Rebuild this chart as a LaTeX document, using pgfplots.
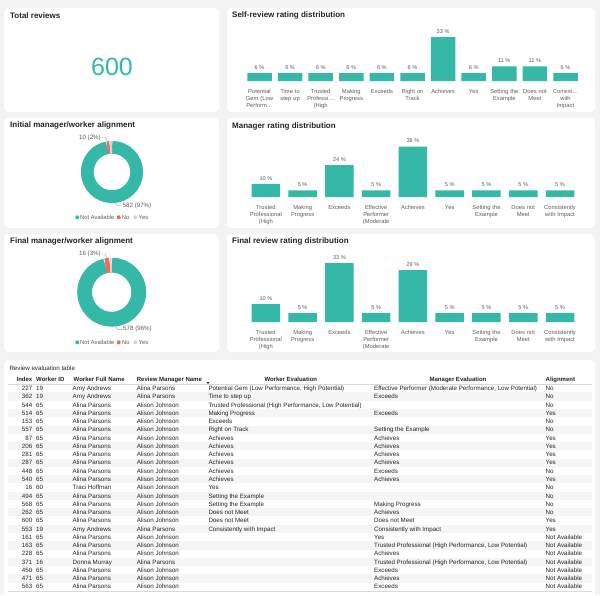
\documentclass[border=0pt]{standalone}
\usepackage{pgfplots}
\pgfplotsset{compat=1.18}
\usepackage{fontspec}
\setmainfont{Liberation Sans}

\definecolor{barteal}{RGB}{53,184,168}
\definecolor{noorange}{RGB}{240,108,88}
\definecolor{yesgray}{RGB}{212,212,212}
\definecolor{pagebg}{RGB}{243,243,243}
\definecolor{ink}{RGB}{37,36,35}
\definecolor{lbl}{RGB}{96,94,92}
\definecolor{stripe}{RGB}{245,245,245}

\newcommand\titlefont{\fontsize{8}{9}\selectfont\bfseries}
\newcommand\smallfont{\fontsize{5.8}{7}\selectfont}
\newcommand\tabfont{\fontsize{6.2}{7}\selectfont}

\pgfplotsset{
  rating/.style={
    scale only axis, ybar, clip=false, anchor=south west,
    ymin=0, enlargelimits=false,
    axis line style={draw=none}, tick style={draw=none},
    ytick=\empty, xtick=data, bar width=#1,
    /pgf/number format/assume math mode=true,
    xticklabel style={font=\smallfont, text=lbl, text width=42pt, align=center,
      anchor=north, inner sep=0pt, yshift=-4pt},
    nodes near coords={\pgfmathprintnumber{\pgfplotspointmeta}~\%},
    nodes near coords style={font=\fontsize{5.6}{6}\selectfont, text=lbl,
      inner sep=0pt, anchor=south, yshift=3.5pt},
  },
  donut/.style={
    hide axis, scale only axis, clip=false, anchor=center,
    xmin=-1, xmax=1, ymin=-1, ymax=1,
  },
}
% ring segment: start angle, end angle, mid radius, ring width, colour
\newcommand\seg[5]{\draw[line width=#4, #5] (axis cs:0,0) ++({#1}:#3)
  arc[start angle={#1}, end angle={#2}, radius=#3];}

\begin{document}
\begin{tikzpicture}
\begin{scope}[x=1pt,y=-1pt]
\useasboundingbox (0,0) rectangle (600,595);
\fill[pagebg] (0,0) rectangle (600,595);

% cards
\foreach \xa/\ya/\xb/\yb in {4/8/219/112, 227/8/595/112, 4/118/219/228, 227/118/595/228,
    4/234/219/352, 227/234/595/352, 4/360/595/600} {
  \fill[black!6, rounded corners=4pt] (\xa+0.6,\ya+0.8) rectangle (\xb+0.6,\yb+0.8);
  \fill[white, rounded corners=4pt] (\xa,\ya) rectangle (\xb,\yb);
}

% titles
\begin{scope}[every node/.style={anchor=west, inner sep=0pt, font=\titlefont, text=ink}]
\node at (10,15.5) {Total reviews};
\node at (232,15.5) {Self-review rating distribution};
\node at (232,126) {Manager rating distribution};
\node at (232,241.5) {Final review rating distribution};
\node at (10,125.5) {Initial manager/worker alignment};
\node at (10,241.5) {Final manager/worker alignment};
\end{scope}
\node[font=\fontsize{25}{25}\selectfont, text=barteal] at (112,66.5) {600};
\end{scope}

% self-review rating distribution
\begin{axis}[rating=24.5pt, at={(244.2pt,-81pt)}, width=336.6pt, height=44pt,
    ymax=33, xmin=-0.5, xmax=10.5,
    xticklabels={{Potential\\Gem (Low\\Perform…}, {Time to\\step up}, {Trusted\\Professi…\\(High},
      {Making\\Progress}, {Exceeds}, {Right on\\Track}, {Achieves}, {Yes},
      {Setting the\\Example}, {Does not\\Meet}, {Consist…\\with\\Impact}}]
\addplot[fill=barteal, draw=none] coordinates {(0,6) (1,6) (2,6) (3,6) (4,6) (5,6) (6,33) (7,6) (8,11) (9,11) (10,6)};
\end{axis}

% manager rating distribution
\begin{axis}[rating=28.5pt, at={(247.5pt,-197pt)}, width=330.9pt, height=50.3pt,
    ymax=38, xmin=-0.5, xmax=8.5,
    xticklabels={{Trusted\\Professional\\(High}, {Making\\Progress}, {Exceeds},
      {Effective\\Performer\\(Moderate}, {Achieves}, {Yes}, {Setting the\\Example},
      {Does not\\Meet}, {Consistently\\with Impact}}]
\addplot[fill=barteal, draw=none] coordinates {(0,10) (1,5) (2,24) (3,5) (4,38) (5,5) (6,5) (7,5) (8,5)};
\end{axis}

% final review rating distribution
\begin{axis}[rating=28.5pt, at={(247.5pt,-322pt)}, width=330.9pt, height=59pt,
    ymax=33, xmin=-0.5, xmax=8.5,
    xticklabels={{Trusted\\Professional\\(High}, {Making\\Progress}, {Exceeds},
      {Effective\\Performer\\(Moderate}, {Achieves}, {Yes}, {Setting the\\Example},
      {Does not\\Meet}, {Consistently\\with Impact}}]
\addplot[fill=barteal, draw=none] coordinates {(0,10) (1,5) (2,33) (3,5) (4,29) (5,5) (6,5) (7,5) (8,5)};
\end{axis}

% initial alignment donut: 582 not available, 10 no, 8 yes
\begin{axis}[donut, at={(112pt,-172pt)}, width=62pt, height=62pt]
\seg{90}{90-582/600*360}{24.7pt}{12.7pt}{barteal}
\seg{90-582/600*360}{90-592/600*360}{24.7pt}{12.7pt}{noorange}
\seg{90-592/600*360}{-270}{24.7pt}{12.7pt}{yesgray}
\end{axis}

% final alignment donut: 578 not available, 16 no, 6 yes
\begin{axis}[donut, at={(111.7pt,-292.2pt)}, width=69pt, height=69pt]
\seg{90}{90-578/600*360}{27.1pt}{14.8pt}{barteal}
\seg{90-578/600*360}{90-594/600*360}{27.1pt}{14.8pt}{noorange}
\seg{90-594/600*360}{-270}{27.1pt}{14.8pt}{yesgray}
\end{axis}

\begin{scope}[x=1pt,y=-1pt]
% donut labels and legends
\begin{scope}[every node/.style={inner sep=0pt, font=\fontsize{6.2}{7}\selectfont, text=lbl}]
\draw[lbl!60, line width=0.4pt] (101.5,137.7) -- (105.5,137.7) -- (107.5,141.5);
\node[anchor=east] at (101,137.7) {10 (2\%)};
\draw[lbl!60, line width=0.4pt] (115,202.5) -- (117,205.7) -- (121.5,205.7);
\node[anchor=west] at (122.5,205.7) {582 (97\%)};
\draw[lbl!60, line width=0.4pt] (101.5,254) -- (105,254) -- (106.5,258);
\node[anchor=east] at (101,254) {16 (3\%)};
\draw[lbl!60, line width=0.4pt] (115.3,326) -- (117.5,329.3) -- (122,329.3);
\node[anchor=west] at (123,329.3) {578 (96\%)};
\end{scope}
\foreach \yl in {217.3, 342.3} {
  \foreach \cx/\tx/\col/\txt in {77.3/80/barteal/Not Available, 118.7/122/noorange/No, 135.3/138.5/yesgray/Yes} {
    \fill[\col] (\cx,\yl) circle (2pt);
    \node[anchor=west, inner sep=0pt, font=\smallfont, text=lbl] at (\tx,\yl) {\txt};
  }
}

% review evaluation table
\node[anchor=base west, inner sep=0pt, font=\fontsize{6.2}{7}\selectfont, text=ink] at (9.3,370.5) {Review evaluation table};
\begin{scope}[every node/.style={inner sep=0pt, font=\fontsize{6}{7}\selectfont\bfseries, text=ink}]
\node[anchor=base east] at (32.5,381.2) {Index};
\node[anchor=base west] at (36,381.2) {Worker ID};
\node[anchor=base west] at (73.5,381.2) {Worker Full Name};
\node[anchor=base west] at (136.7,381.2) {Review Manager Name};
\node[anchor=base] at (290.8,381.2) {Worker Evaluation};
\node[anchor=base] at (458,381.2) {Manager Evaluation};
\node[anchor=base west] at (545.5,381.2) {Alignment};
\end{scope}
\fill[ink] (206.5,382) -- (209.5,382) -- (208,384) -- cycle;
\draw[black!15, line width=0.4pt] (8,384.2) -- (592,384.2);
\foreach \ix/\wid/\wn/\rmn/\we/\me/\al [count=\r from 0] in {
  227/19/Amy Andrews/Alina Parsons/{Potential Gem (Low Performance, High Potential)}/{Effective Performer (Moderate Performance, Low Potential)}/No,
  362/19/Amy Andrews/Alina Parsons/Time to step up/Exceeds/No,
  544/65/Alina Parsons/Alison Johnson/{Trusted Professional (High Performance, Low Potential)}//No,
  514/65/Alina Parsons/Alison Johnson/Making Progress/Exceeds/Yes,
  153/65/Alina Parsons/Alison Johnson/Exceeds//No,
  557/65/Alina Parsons/Alison Johnson/Right on Track/Setting the Example/No,
  87/65/Alina Parsons/Alison Johnson/Achieves/Achieves/Yes,
  206/65/Alina Parsons/Alison Johnson/Achieves/Achieves/Yes,
  281/65/Alina Parsons/Alison Johnson/Achieves/Achieves/Yes,
  287/65/Alina Parsons/Alison Johnson/Achieves/Achieves/Yes,
  448/65/Alina Parsons/Alison Johnson/Achieves/Exceeds/No,
  540/65/Alina Parsons/Alison Johnson/Achieves/Achieves/Yes,
  16/60/Traci Hoffman/Alison Johnson/Yes//No,
  494/65/Alina Parsons/Alison Johnson/Setting the Example//No,
  568/65/Alina Parsons/Alison Johnson/Setting the Example/Making Progress/No,
  262/65/Alina Parsons/Alison Johnson/Does not Meet/Achieves/No,
  600/65/Alina Parsons/Alison Johnson/Does not Meet/Does not Meet/Yes,
  553/19/Amy Andrews/Alina Parsons/Consistently with Impact/Consistently with Impact/Yes,
  161/65/Alina Parsons/Alison Johnson//Yes/Not Available,
  163/65/Alina Parsons/Alison Johnson//{Trusted Professional (High Performance, Low Potential)}/Not Available,
  228/65/Alina Parsons/Alison Johnson//Achieves/Not Available,
  371/16/Donna Murray/Alina Parsons//{Trusted Professional (High Performance, Low Potential)}/Not Available,
  450/65/Alina Parsons/Alison Johnson//Exceeds/Not Available,
  471/65/Alina Parsons/Alison Johnson//Achieves/Not Available,
  563/65/Alina Parsons/Alison Johnson//Exceeds/Not Available} {
  \pgfmathsetmacro\yy{388.3+8.27*\r}
  \pgfmathsetmacro\yb{\yy+2.2}
  \ifodd\r \fill[stripe] (8,\yy-4.13) rectangle (592,\yy+4.13); \fi
  \begin{scope}[every node/.style={inner sep=0pt, font=\tabfont, text=ink, anchor=base west}]
  \node[anchor=base east] at (32.5,\yb) {\ix};
  \node at (36,\yb) {\wid};
  \node at (72.5,\yb) {\wn};
  \node at (136.7,\yb) {\rmn};
  \node at (208.3,\yb) {\we};
  \node at (374,\yb) {\me};
  \node at (545.5,\yb) {\al};
  \end{scope}
}
\draw[black!15, line width=0.4pt] (8,591) -- (592,591);
\end{scope}
\end{tikzpicture}
\end{document}
